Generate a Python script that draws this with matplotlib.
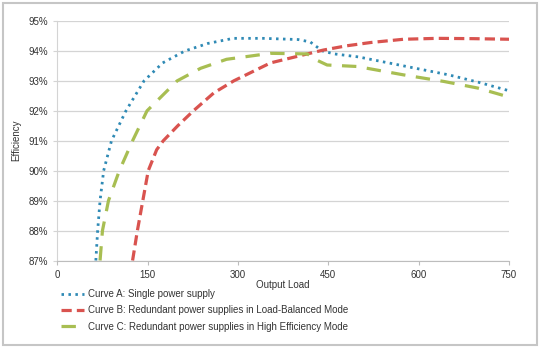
import matplotlib.pyplot as plt
from matplotlib.patches import Rectangle

# output load vs efficiency (%) for the three supply configurations
load_a = [64, 67, 71, 77, 90, 114, 144, 175, 212, 250, 292, 342, 400, 420, 440, 460, 500, 550, 600, 650, 700, 750]
eff_a = [87.0, 88.0, 89.0, 90.0, 91.0, 92.0, 93.0, 93.6, 94.0, 94.25, 94.42, 94.42, 94.38, 94.3, 94.0, 93.9, 93.8, 93.6, 93.4, 93.2, 92.95, 92.67]

load_b = [125, 133, 142, 151, 165, 176, 200, 226, 260, 293, 354, 409, 442, 480, 520, 575, 631, 690, 750]
eff_b = [87.0, 88.0, 89.0, 90.0, 90.7, 91.0, 91.5, 92.0, 92.6, 93.0, 93.6, 93.87, 94.03, 94.17, 94.28, 94.39, 94.42, 94.41, 94.39]

load_c = [71, 75, 85, 103, 125, 149, 199, 238, 281, 354, 415, 430, 448, 498, 575, 642, 698, 750]
eff_c = [87.0, 88.0, 89.0, 90.0, 91.0, 92.0, 93.0, 93.42, 93.72, 93.92, 93.9, 93.7, 93.53, 93.48, 93.2, 92.98, 92.76, 92.46]

labels = ["Curve A: Single power supply",
          "Curve B: Redundant power supplies in Load-Balanced Mode",
          "Curve C: Redundant power supplies in High Efficiency Mode"]

plt.rcParams['font.family'] = ['Liberation Sans Narrow', 'Liberation Sans', 'DejaVu Sans']

fig = plt.figure(figsize=(5.4, 3.48), dpi=100)
ax = fig.add_axes([0.1061, 0.2514, 0.8365, 0.6883])

# gray frame round the whole chart
fig.patches.append(Rectangle((0.006, 0.009), 0.988, 0.982, transform=fig.transFigure,
                             fill=False, edgecolor='#c6c6c6', linewidth=1.5))

la, = ax.plot(load_a, eff_a, color='#2f8ab5', linewidth=2.0, linestyle=(0, (0.9, 1.6)))
lb, = ax.plot(load_b, eff_b, color='#d9534f', linewidth=2.3, linestyle=(0, (3.2, 1.6)))
lc, = ax.plot(load_c, eff_c, color='#a8be52', linewidth=2.3, linestyle=(0, (4.5, 3.3)))

ax.set_xlim(0, 750)
ax.set_ylim(87, 95)
ax.set_xticks([0, 150, 300, 450, 600, 750])
ax.set_yticks(range(87, 96))
ax.set_yticklabels([f"{v}%" for v in range(87, 96)])
ax.grid(axis='y', color='#d4d4d4', linewidth=0.9)
ax.set_axisbelow(True)
for s in ['top', 'right']:
    ax.spines[s].set_visible(False)
ax.spines['bottom'].set_color('#bdbdbd')
ax.spines['left'].set_color('#d4d4d4')
ax.tick_params(axis='x', colors='#bdbdbd', labelcolor='#333333', labelsize=7, length=3, direction='out')
ax.tick_params(axis='y', colors='#d4d4d4', labelcolor='#333333', labelsize=7, length=3, direction='out')

ax.set_xlabel('Output Load', fontsize=7, color='#333333', labelpad=0)
ax.set_ylabel('Efficiency', fontsize=7, color='#333333', labelpad=5)

fig.legend([la, lb, lc], labels, loc='upper left', bbox_to_anchor=(0.104, 0.183),
           frameon=False, fontsize=7, handlelength=2.4, handletextpad=0.35,
           labelspacing=0.65, borderpad=0, labelcolor='#333333')

fig.savefig('out.png', dpi=100)
